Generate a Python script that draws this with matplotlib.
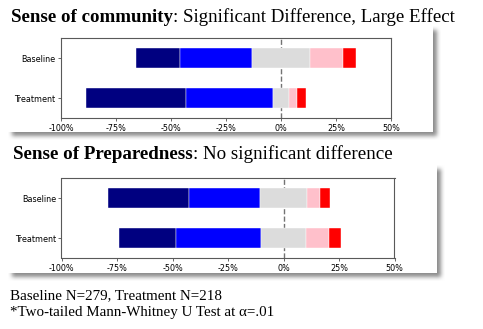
import numpy as np
import matplotlib
matplotlib.use('Agg')
import matplotlib.pyplot as plt

W, H = 483, 329

groups = ['Treatment', 'Baseline']
colors = ['navy', 'blue', 'gainsboro', 'pink', 'red']
ticks = [-100, -75, -50, -25, 0, 25, 50]

# percent of responses per level, lowest to highest
community_baseline = [20, 33, 26, 15, 6]
community_treatment = [45.3, 39.7, 7.2, 3.6, 4.2]
prepared_baseline = [36.8, 32.0, 20.8, 6.1, 4.3]
prepared_treatment = [26.1, 38.2, 20.0, 10.4, 5.3]

fig = plt.figure(figsize=(W/100, H/100), dpi=100, facecolor='white')

# white cards with a soft drop shadow, drawn in pixel space
def blur(a, r):
    for axis in (0, 1):
        acc = np.zeros_like(a)
        for s in range(-r, r+1):
            acc += np.roll(a, s, axis=axis)
        a = acc / (2*r + 1)
    return a

cards = [(8, 26, 433, 132), (8, 165, 437, 273)]
mask = np.zeros((H, W))
for x0, y0, x1, y1 in cards:
    mask[y0+4:y1+4, x0+4:x1+4] = 1
mask = blur(blur(mask, 2), 2)
bg = 1 - 0.45*mask
for x0, y0, x1, y1 in cards:
    bg[y0:y1, x0:x1] = 1
fig.figimage(np.dstack([bg, bg, bg]), 0, 0, zorder=-1)

def px(x, y):
    return x / W, 1 - y / H

def likert(rect, rows):
    ax = fig.add_axes(rect)
    ax.set_zorder(2)
    for i, vals in enumerate(rows):
        left = -(vals[0] + vals[1] + vals[2] / 2)
        for v, c in zip(vals, colors):
            ax.barh(i, v, left=left, height=0.5, color=c, edgecolor='white', linewidth=0.3)
            left += v
    ax.axvline(0, color='0.45', ls='--', lw=1, zorder=0)
    ax.set_xlim(-100, 50)
    ax.set_ylim(-0.5, 1.5)
    ax.set_yticks(range(len(groups)))
    ax.set_yticklabels(groups)
    ax.set_xticks(ticks)
    ax.set_xticklabels(['%d%%' % t for t in ticks])
    ax.tick_params(labelsize=5.8, length=2.5, width=0.6, pad=1.5, color='0.3')
    for s in ax.spines.values():
        s.set_color('0.35')
        s.set_linewidth(0.8)
    return ax

likert([61/W, 1 - 118/H, 330/W, 80/H], [community_treatment, community_baseline])
likert([61.5/W, 1 - 258/H, 333/W, 80/H], [prepared_treatment, prepared_baseline])

serif = 'Liberation Serif'
r = fig.canvas.get_renderer()

def title(x, y, bold, rest, size):
    t = fig.text(*px(x, y), bold, family=serif, weight='bold', size=size, va='baseline')
    bb = t.get_window_extent(renderer=r)
    fig.text(bb.x1 / W, 1 - y / H, rest, family=serif, size=size, va='baseline')

title(11, 22, 'Sense of community', ': Significant Difference, Large Effect', 13.6)
title(13, 159, 'Sense of Preparedness', ': No significant difference', 13.7)

fig.text(*px(10, 299), 'Baseline N=279, Treatment N=218', family=serif, size=10.8, va='baseline')
fig.text(*px(10, 316), '*Two-tailed Mann-Whitney U Test at \u03b1=.01', family=serif, size=10.8, va='baseline')

fig.savefig('out.png', dpi=100)
